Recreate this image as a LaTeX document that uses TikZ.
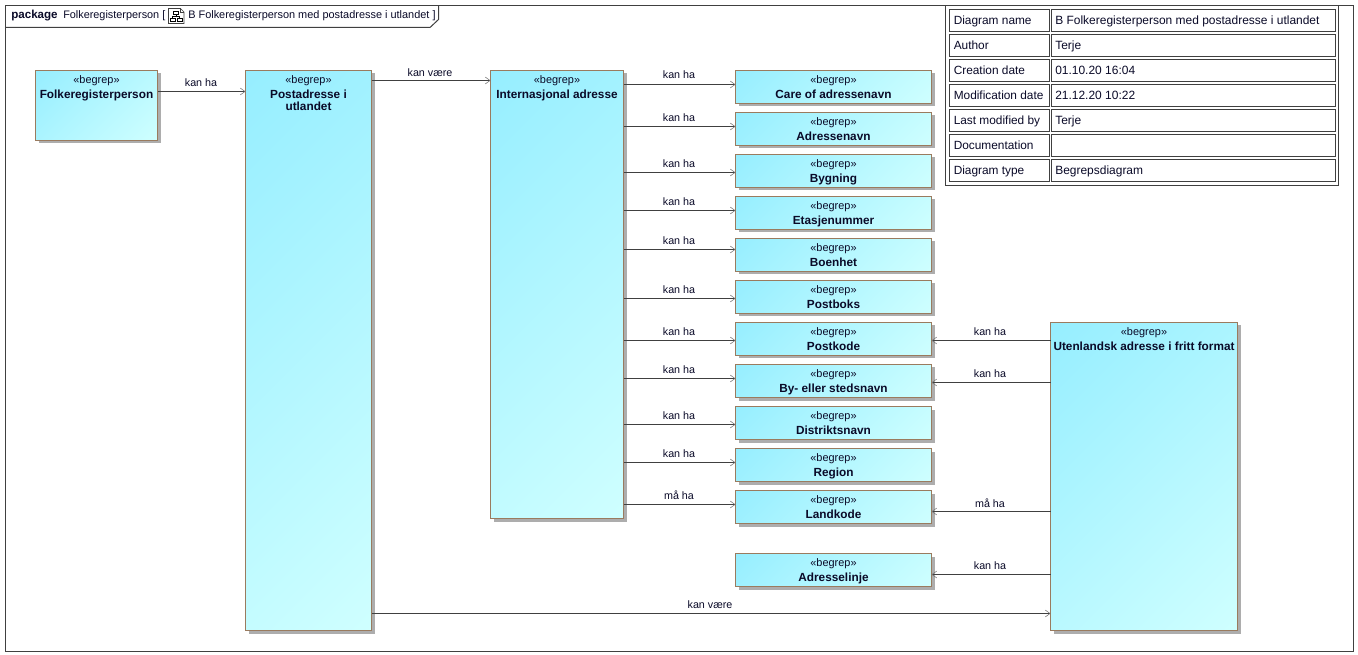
\documentclass[tikz,border=0pt]{standalone}
\usepackage{fontspec}
\setmainfont{Liberation Sans}
\usetikzlibrary{arrows.meta}
\definecolor{cyA}{HTML}{96EEFF}
\definecolor{cyB}{HTML}{CFFFFF}
\definecolor{edgeB}{HTML}{9A7B5F}
\definecolor{lineC}{HTML}{404040}
\definecolor{txtC}{HTML}{0A0A28}
\pgfdeclareverticalshading{cdiag}{100bp}{color(0bp)=(cyB); color(14.6bp)=(cyB); color(85.4bp)=(cyA); color(100bp)=(cyA)}
\tikzset{
  cpt/.style={draw=edgeB,line width=0.75pt,rectangle,inner sep=0pt,outer sep=0pt,anchor=north west,
     shading=cdiag,shading angle=45},
  cptshadow/.style={fill=black!32,draw=none},
  ster/.style={font=\fontsize{8.2}{9}\selectfont,text=txtC,anchor=center,inner sep=0pt},
  cname/.style={font=\fontsize{8.85}{9}\selectfont\bfseries,text=txtC,anchor=north,inner sep=0pt,align=center},
  lab/.style={font=\fontsize{8.05}{9}\selectfont,text=txtC,inner sep=0pt,anchor=center},
  conn/.style={draw=lineC,line width=0.75pt},
  arr/.style={conn,-{Straight Barb[length=3.6pt,width=5.2pt,line width=0.4pt,color=black!55]}},
  cell/.style={draw=lineC,line width=0.75pt,rectangle,inner sep=0pt,outer sep=0pt,anchor=north west,fill=white},
  celltxt/.style={font=\fontsize{8.9}{10}\selectfont,text=txtC,inner sep=0pt,anchor=base west},
  frameL/.style={draw=lineC,line width=0.75pt},
}
% \cbox{name}{x}{y}{w}{h}{text}
\newcommand{\cbox}[6]{%
  \fill[cptshadow] (#2+3,#3+3) rectangle ++(#4,#5);
  \node[cpt,minimum width=#4*0.75pt,minimum height=#5*0.75pt] (#1) at (#2,#3) {};
  \node[ster] (#1-s) at (#2+#4/2,#3+10.5) {«begrep»};
  \node[cname] (#1-n) at (#2+#4/2,#3+19.5) {#6};
}
\newcommand{\crow}[4]{%
  \node[cell,minimum width=99.5*0.75pt,minimum height=22.5*0.75pt] (rk#1) at (949.5,#2) {};
  \node[cell,minimum width=284.5*0.75pt,minimum height=22.5*0.75pt] (rv#1) at (1051,#2) {};
  \node[celltxt] (tk#1) at (953.5,#2+15.5) {#3};
  \node[celltxt,font=\fontsize{8.98}{10}\selectfont] (tv#1) at (1055,#2+15.5) {#4};
}
\begin{document}
\begin{tikzpicture}[x=0.75pt,y=-0.75pt]
\useasboundingbox (0,0) rectangle (1358,655);
\fill[white] (0,0) rectangle (1358,655);
% frame
\node[draw=lineC,line width=0.75pt,rectangle,inner sep=0pt,outer sep=0pt,anchor=north west,minimum width=1347.5*0.75pt,minimum height=645.5*0.75pt] (frame) at (5.5,5.5) {};
\coordinate (tabA) at (5.5,27.5);
\coordinate (tabB) at (430,27.5);
\coordinate (tabC) at (438.5,19.5);
\coordinate (tabD) at (438.5,5.5);
\draw[frameL] (tabA) -- (tabB) -- (tabC) -- (tabD);
\node[font=\fontsize{8.7}{10}\selectfont\bfseries,text=txtC,inner sep=0pt,anchor=base west] (pk) at (11,19) {package};
\node[font=\fontsize{8.15}{10}\selectfont,text=txtC,inner sep=0pt,anchor=base west] (pn) at (63,19) {Folkeregisterperson [};
\node[font=\fontsize{8.2}{10}\selectfont,text=txtC,inner sep=0pt,anchor=base west] (pd) at (188,19) {B Folkeregisterperson med postadresse i utlandet ]};
% icon
\draw[draw=lineC,line width=0.5pt,fill=white] (168.5,8.5) -- (180.5,8.5) -- (184,12) -- (184,23.5) -- (168.5,23.5) -- cycle;
\draw[draw=lineC,line width=0.5pt] (180.5,8.5) -- (180.5,12) -- (184,12);
\draw[draw=black,line width=0.5pt] (173.5,11) rectangle (178.5,14.5);
\draw[draw=black,line width=0.5pt] (170.5,18) rectangle (175,21.5);
\draw[draw=black,line width=0.5pt] (177.5,18) rectangle (182,21.5);
\draw[draw=black,line width=0.5pt] (176,14.5) -- (176,16.2) (172.7,18) -- (172.7,16.2) -- (179.7,16.2) -- (179.7,18);
% table
\node[draw=lineC,line width=0.75pt,fill=white,rectangle,inner sep=0pt,outer sep=0pt,anchor=north west,minimum width=393*0.75pt,minimum height=180*0.75pt] (tbl) at (945.5,5.5) {};
\crow{1}{9.5}{Diagram name}{B Folkeregisterperson med postadresse i utlandet}
\crow{2}{34.5}{Author}{Terje}
\crow{3}{59.5}{Creation date}{01.10.20 16:04}
\crow{4}{84.5}{Modification date}{21.12.20 10:22}
\crow{5}{109.5}{Last modified by}{Terje}
\crow{6}{134.5}{Documentation}{}
\crow{7}{159.5}{Diagram type}{Begrepsdiagram}
% boxes
\cbox{folk}{35.5}{70.5}{122}{70}{Folkeregisterperson}
\cbox{post}{245.5}{70.5}{126}{560}{Postadresse i\\utlandet}
\cbox{inter}{490.5}{70.5}{133}{448}{Internasjonal adresse}
\cbox{care}{735.5}{70.5}{196}{33}{Care of adressenavn}
\cbox{adrn}{735.5}{112.5}{196}{33}{Adressenavn}
\cbox{byg}{735.5}{154.5}{196}{33}{Bygning}
\cbox{etg}{735.5}{196.5}{196}{33}{Etasjenummer}
\cbox{boe}{735.5}{238.5}{196}{33}{Boenhet}
\cbox{pboks}{735.5}{280.5}{196}{33}{Postboks}
\cbox{pkode}{735.5}{322.5}{196}{33}{Postkode}
\cbox{bysted}{735.5}{364.5}{196}{33}{By- eller stedsnavn}
\cbox{dist}{735.5}{406.5}{196}{33}{Distriktsnavn}
\cbox{reg}{735.5}{448.5}{196}{33}{Region}
\cbox{land}{735.5}{490.5}{196}{33}{Landkode}
\cbox{alin}{735.5}{553.5}{196}{33}{Adresselinje}
\cbox{uten}{1050.5}{322.5}{187}{308}{Utenlandsk adresse i fritt format}
% connectors
\draw[arr] (folk.east |- 0,91.5) -- (post.west |- 0,91.5);
\draw[arr] (post.east |- 0,80.5) -- (inter.west |- 0,80.5);
\draw[arr] (post.east |- 0,613.5) -- (uten.west |- 0,613.5);
\draw[arr] (inter.east |- 0,84.5) -- (care.west |- 0,84.5);
\draw[arr] (inter.east |- 0,126.5) -- (adrn.west |- 0,126.5);
\draw[arr] (inter.east |- 0,172.5) -- (byg.west |- 0,172.5);
\draw[arr] (inter.east |- 0,210.5) -- (etg.west |- 0,210.5);
\draw[arr] (inter.east |- 0,249.5) -- (boe.west |- 0,249.5);
\draw[arr] (inter.east |- 0,298.5) -- (pboks.west |- 0,298.5);
\draw[arr] (inter.east |- 0,340.5) -- (pkode.west |- 0,340.5);
\draw[arr] (inter.east |- 0,378.5) -- (bysted.west |- 0,378.5);
\draw[arr] (inter.east |- 0,424.5) -- (dist.west |- 0,424.5);
\draw[arr] (inter.east |- 0,462.5) -- (reg.west |- 0,462.5);
\draw[arr] (inter.east |- 0,504.5) -- (land.west |- 0,504.5);
\draw[arr] (uten.west |- 0,340.5) -- (pkode.east |- 0,340.5);
\draw[arr] (uten.west |- 0,382.5) -- (bysted.east |- 0,382.5);
\draw[arr] (uten.west |- 0,511.5) -- (land.east |- 0,511.5);
\draw[arr] (uten.west |- 0,574.5) -- (alin.east |- 0,574.5);
% labels
\node[lab] (l1) at (201,83) {kan ha};
\node[lab] (l2) at (430,73) {kan være};
\node[lab] (l3) at (710,605) {kan være};
\node[lab] (m1) at (679,75) {kan ha};
\node[lab] (m2) at (679,118) {kan ha};
\node[lab] (m3) at (679,164) {kan ha};
\node[lab] (m4) at (679,202) {kan ha};
\node[lab] (m5) at (679,241) {kan ha};
\node[lab] (m6) at (679,290) {kan ha};
\node[lab] (m7) at (679,332) {kan ha};
\node[lab] (m8) at (679,370) {kan ha};
\node[lab] (m9) at (679,416) {kan ha};
\node[lab] (m10) at (679,454) {kan ha};
\node[lab] (m11) at (679,495) {må ha};
\node[lab] (r1) at (990,332) {kan ha};
\node[lab] (r2) at (990,374) {kan ha};
\node[lab] (r3) at (990,503) {må ha};
\node[lab] (r4) at (990,566) {kan ha};
\end{tikzpicture}
\end{document}
